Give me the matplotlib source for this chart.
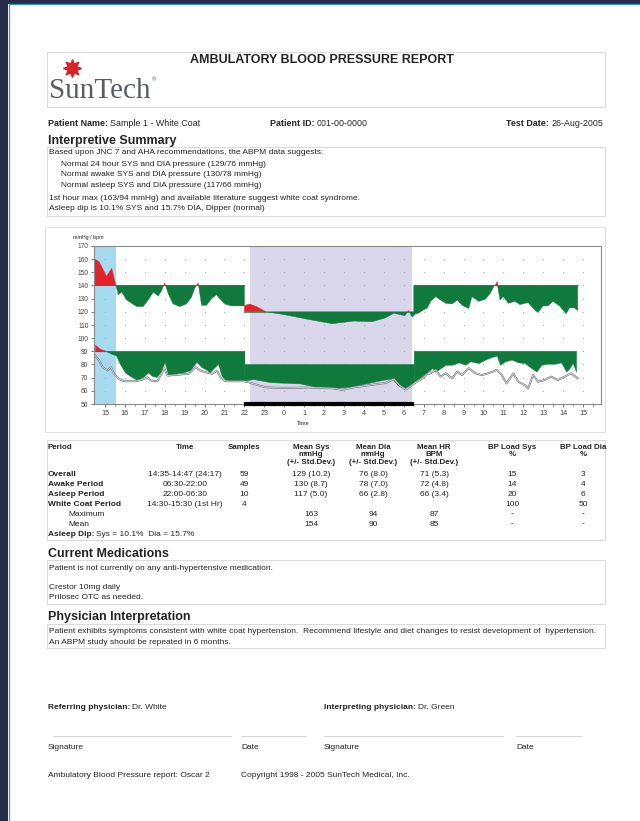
import matplotlib
matplotlib.use('Agg')
import matplotlib.pyplot as plt
import numpy as np
from matplotlib.patches import Rectangle
from matplotlib.lines import Line2D

plt.rcParams['font.family'] = ['Liberation Sans', 'DejaVu Sans']

# ---------------- data ----------------
sys_t = [14.5, 14.71, 15.08, 15.34, 15.55, 15.67, 15.84, 16.09, 16.59, 16.92, 17.17, 17.43, 17.67,
         17.84, 18.0, 18.17, 18.42, 18.76, 19.09, 19.34, 19.51, 19.68, 19.85, 20.10, 20.35, 20.60,
         20.76, 21.01, 21.34, 21.95, 22.26, 22.6, 23.1, 23.95, 25.3, 26.4, 27.5, 28.4, 29.1, 29.5,
         30.05, 30.24, 30.42, 30.6, 30.75, 30.94, 31.18, 31.35, 31.60, 31.85, 32.10, 32.43, 32.68,
         32.93, 33.26, 33.42, 33.76, 34.09, 34.34, 34.58, 34.67, 34.83, 35.0, 35.25, 35.58, 35.83,
         36.24, 36.57, 36.74, 36.99, 37.24, 37.49, 37.82, 38.15, 38.32, 38.56, 38.73]
sys_v = [160, 158, 147, 153, 140, 133, 135, 129, 124, 124, 129, 135, 132,
         136, 142, 134, 126, 124, 126, 131, 138, 142, 125, 125, 130, 133,
         130, 126, 124.5, 124.5, 126, 124, 120, 118, 114, 111, 113, 112.5, 115.5, 119,
         117, 121, 116, 118.5, 119, 121, 123, 128, 131.5, 129, 126.5, 126, 129,
         125, 122.5, 131.5, 128, 129.5, 134, 141, 143.5, 129, 131.5, 126.5, 128, 125.5,
         127, 121.5, 119.5, 124.5, 124.5, 128, 124.5, 118.5, 123, 123, 121]

dia_t = [14.5, 14.75, 15.0, 15.34, 15.55, 15.75, 16.0, 16.34, 16.59, 16.92, 17.17, 17.34, 17.59,
         17.84, 18.0, 18.17, 18.5, 18.92, 19.26, 19.59, 19.85, 20.10, 20.26, 20.51, 20.68, 20.85,
         21.01, 21.34, 21.95, 22.43, 23.3, 24.8, 25.6, 26.3, 27.3, 28.1, 28.9, 29.4, 29.7, 30.0,
         30.27, 30.52, 30.77, 31.1, 31.43, 31.6, 31.85, 32.1, 32.43, 32.76, 33.09, 33.34, 33.76,
         34.09, 34.42, 34.67, 34.83, 35.08, 35.41, 35.75, 36.08, 36.41, 36.66, 36.91, 37.24, 37.57,
         37.9, 38.15, 38.32, 38.48, 38.65]
dia_v = [95, 92, 90.5, 88, 87, 80.5, 74, 70.5, 68.5, 70.5, 74, 71.5, 70.5,
         75.5, 82, 71.5, 73, 74, 75.5, 82, 78, 76, 74, 78, 80.5, 71.5,
         69, 67.3, 67.5, 69, 66.6, 65.6, 63, 62, 63, 65.6, 68.2, 69.5, 64.3, 62,
         64.3, 67, 69.5, 73.3, 77.2, 74.6, 77.2, 79.8, 79.8, 81.6, 79.8, 82.4, 81.1,
         83.7, 85.7, 86.8, 79.8, 82.4, 83.7, 81.6, 81.1, 77.2, 74.6, 79.8, 80.6, 80.6,
         81.6, 74.6, 77.2, 81.1, 74.6]

hr_t = [14.5, 14.71, 14.88, 15.13, 15.3, 15.46, 15.71, 15.96, 16.55, 16.88, 17.13, 17.3, 17.63,
        17.88, 17.96, 18.13, 18.55, 19.21, 19.55, 19.80, 20.05, 20.38, 20.63, 20.8, 21.05, 21.96,
        22.2, 23.05, 23.9, 25.2, 26.4, 26.9, 27.5, 29.1, 29.5, 29.8, 30.1, 30.4, 30.52, 30.94,
        31.18, 31.35, 31.60, 31.85, 32.10, 32.43, 32.68, 32.93, 33.26, 33.59, 33.92, 34.25, 34.67,
        34.92, 35.16, 35.5, 35.75, 36.08, 36.24, 36.49, 36.74, 37.07, 37.4, 37.74, 38.07, 38.4, 38.73]
hr_v = [87, 83, 78, 75.5, 78, 73, 69, 67.3, 67.3, 68.5, 70.3, 67.8, 67.3,
        74, 78, 71.6, 72.1, 73, 78, 75.4, 74.1, 72.9, 75.4, 70.3, 67.3, 67.3,
        66.5, 62.7, 62.2, 62.5, 62, 60.8, 62.7, 66, 69, 64, 61, 64, 65.6, 69.5,
        72.8, 73.3, 75.9, 70.8, 73.3, 69.5, 74.6, 72, 77.2, 73.3, 72, 73.3, 75.9,
        72, 65.6, 73.3, 66.9, 64.3, 61.7, 72, 66.9, 68.2, 70.8, 68.2, 70.8, 73.3, 69.5]

sys_limits = (140, 120)      # awake, asleep
dia_limits = (90, 80)
sleep_start, sleep_end = 22.0, 30.5
sleep_shade = (22.3, 30.43)
whitecoat = (14.45, 15.55)
x_range = (14.45, 39.9)
y_range = (50, 170)
hour_ticks = list(range(15, 40))
y_ticks = list(range(50, 171, 10))

table_header = ["Period", "Time", "Samples", "Mean Sys\nmmHg\n(+/- Std.Dev.)",
                "Mean Dia\nmmHg\n(+/- Std.Dev.)", "Mean HR\nBPM\n(+/- Std.Dev.)",
                "BP Load Sys\n%", "BP Load Dia\n%"]
table_rows = [
    ["Overall", "14:35-14:47 (24:17)", "59", "129 (10.2)", "76 (8.0)", "71 (5.3)", "15", "3"],
    ["Awake Period", "06:30-22:00", "49", "130 (8.7)", "78 (7.0)", "72 (4.8)", "14", "4"],
    ["Asleep Period", "22:00-06:30", "10", "117 (5.0)", "66 (2.8)", "66 (3.4)", "20", "6"],
    ["White Coat Period", "14:30-15:30 (1st Hr)", "4", "", "", "", "100", "50"],
    ["Maximum", "", "", "163", "94", "87", "-", "-"],
    ["Mean", "", "", "154", "90", "85", "-", "-"],
]

GREEN = '#0f7a3b'
RED = '#e2232b'
TXT = '#242424'
BODY = 6.0
HEAD = 9.0

W, H = 640, 821
fig = plt.figure(figsize=(W / 100, H / 100), dpi=100)
fig.patch.set_facecolor('white')
R = fig.canvas.get_renderer()


def X(x):
    return x / W


def Y(y):
    return 1 - y / H


def txt(x, y, s, size=BODY, weight='normal', ha='left', va='center', color=TXT, **kw):
    return fig.text(X(x), Y(y), s, fontsize=size, fontweight=weight, ha=ha, va=va,
                    color=color, **kw)


def box(x0, y0, x1, y1, color='#d4d4d4', lw=0.6):
    fig.add_artist(Rectangle((X(x0), Y(y1)), (x1 - x0) / W, (y1 - y0) / H, fill=False,
                             ec=color, lw=lw, transform=fig.transFigure))


def hline(x0, x1, y, color='#cfcfcf', lw=0.6):
    fig.add_artist(Line2D([X(x0), X(x1)], [Y(y), Y(y)], color=color, lw=lw,
                          transform=fig.transFigure))


def label_value(x, y, label, value, size=BODY, right=False):
    t1 = txt(x, y, label, size=size, weight='bold')
    w1 = t1.get_window_extent(R).width
    t2 = txt(x + w1 + 2, y, value, size=size)
    if right:
        w2 = t2.get_window_extent(R).width
        tot = w1 + 2 + w2
        t1.set_x(X(x - tot))
        t2.set_x(X(x - tot + w1 + 2))


# ---- page frame (dark surround) ----
NAVY = '#272c48'
fig.add_artist(Rectangle((0, Y(4)), 1, 4 / H, color=NAVY, transform=fig.transFigure, lw=0))
fig.add_artist(Rectangle((0, 0), 8 / W, 1, color=NAVY, transform=fig.transFigure, lw=0))
fig.add_artist(Line2D([X(8.5), X(8.5)], [0, Y(4.5)], color='#3596dc', lw=0.9, transform=fig.transFigure))
fig.add_artist(Line2D([X(8.5), 1], [Y(4.5), Y(4.5)], color='#3596dc', lw=0.9, transform=fig.transFigure))

# ---- header ----
box(47, 52, 605, 107)
txt(322, 60, 'AMBULATORY BLOOD PRESSURE REPORT', size=9.0, weight='bold', ha='center')
txt(49, 91, 'SunTech', size=21, family='Liberation Serif', color='#565c64')
txt(152, 80, '®', size=4, color='#565c64')
fig.add_artist(Line2D([X(72)], [Y(68)], marker=(8, 1, 0), ms=13, color='#d8232a',
                      mec='#d8232a', transform=fig.transFigure))
fig.add_artist(Line2D([X(72)], [Y(68)], marker=(6, 1, 30), ms=9, color='#d8232a',
                      mec='#d8232a', transform=fig.transFigure))

label_value(48, 123, 'Patient Name:', 'Sample 1 - White Coat', size=6.4)
label_value(270, 123, 'Patient ID:', '001-00-0000', size=6.4)
label_value(603, 123, 'Test Date:', '26-Aug-2005', size=6.4, right=True)

# ---- interpretive summary ----
txt(48, 141, 'Interpretive Summary', size=HEAD, weight='bold')
box(47, 147, 605, 216)
txt(49, 153, 'Based upon JNC 7 and AHA recommendations, the ABPM data suggests:')
txt(61, 164, 'Normal 24 hour SYS and DIA pressure (129/76 mmHg)')
txt(61, 174.5, 'Normal awake SYS and DIA pressure (130/78 mmHg)')
txt(61, 185, 'Normal asleep SYS and DIA pressure (117/66 mmHg)')
txt(49, 198, '1st hour max (163/94 mmHg) and available literature suggest white coat syndrome.')
txt(49, 208, 'Asleep dip is 10.1% SYS and 15.7% DIA, Dipper (normal)')

# ---- chart ----
box(45, 227, 605, 432, color='#dddddd')
ax = fig.add_axes([X(94), Y(404), (601 - 94) / W, (404 - 246) / H])
ax.set_xlim(*x_range)
ax.set_ylim(*y_range)
ax.axvspan(*whitecoat, color='#a6dbef', lw=0, zorder=0)
ax.axvspan(*sleep_shade, color='#dad6eb', lw=0, zorder=0)

gx, gy = np.meshgrid(hour_ticks, y_ticks[1:-1])
ax.scatter(gx.ravel(), gy.ravel(), s=0.8, color='#b0b0b0', lw=0, zorder=1)


def band(t, v, limits):
    t = np.asarray(t, float)
    v = np.asarray(v, float)
    segs = [(t[0], sleep_start, limits[0]), (sleep_start, sleep_end, limits[1]),
            (sleep_end, t[-1], limits[0])]
    for a, b, thr in segs:
        m = (t > a) & (t < b)
        tt = np.concatenate([[a], t[m], [b]])
        vv = np.concatenate([[np.interp(a, t, v)], v[m], [np.interp(b, t, v)]])
        ax.fill_between(tt, vv, thr, where=vv <= thr, interpolate=True, color=GREEN, lw=0.3,
                        ec=GREEN, zorder=2)
        ax.fill_between(tt, vv, thr, where=vv >= thr, interpolate=True, color=RED, lw=0.3,
                        ec=RED, zorder=2)
        ax.plot([a, b], [thr, thr], color=GREEN, lw=0.5, zorder=2)


band(sys_t, sys_v, sys_limits)
band(dia_t, dia_v, dia_limits)
ax.plot(hr_t, hr_v, color='#74767e', lw=1.4, zorder=3, solid_joinstyle='round')
ax.plot(hr_t, hr_v, color='#f2f2f2', lw=0.45, zorder=4, solid_joinstyle='round')

ax.plot([sleep_start, sleep_end], [y_range[0], y_range[0]], color='black', lw=3,
        solid_capstyle='butt', clip_on=False, zorder=5)

ax.set_xticks(hour_ticks)
ax.set_xticklabels([str(h % 24) for h in hour_ticks], fontsize=5.2, color=TXT)
ax.set_xticks(np.arange(15, 39.6, 0.5), minor=True)
ax.set_yticks(y_ticks)
ax.set_yticklabels([str(v) for v in y_ticks], fontsize=4.8, color=TXT)
ax.tick_params(axis='both', which='major', length=2.5, width=0.5, pad=1.5, colors='#444')
ax.tick_params(axis='x', which='minor', length=1.5, width=0.4, colors='#444')
for s in ax.spines.values():
    s.set_color('#8a8a8a')
    s.set_linewidth(0.8)
ax.set_facecolor('white')
txt(73, 238, 'mmHg / bpm', size=3.8)
txt(303, 423, 'Time', size=4.2, ha='center')

# ---- table ----
box(47, 440, 605, 540)
col_x = [48, 185, 244, 311, 373, 434, 512, 583]
TS = 6.0
for i, h in enumerate(table_header):
    for k, line in enumerate(h.split('\n')):
        txt(col_x[i], 447 + 7.5 * k, line, size=5.7, weight='bold', ha='left' if i == 0 else 'center')
row_y = [474, 484, 494, 504, 514, 524]
for r, (row, yy) in enumerate(zip(table_rows, row_y)):
    for i, cell in enumerate(row):
        if i == 0:
            indent = 20 if r >= 4 else 0
            txt(col_x[0] + indent, yy, cell, size=TS, weight='normal' if r >= 4 else 'bold')
        else:
            txt(col_x[i], yy, cell, size=TS, ha='center')
label_value(48, 534, 'Asleep Dip:', 'Sys = 10.1%  Dia = 15.7%', size=TS)

# ---- medications ----
txt(48, 554, 'Current Medications', size=HEAD, weight='bold')
box(47, 560, 605, 604)
txt(49, 568, 'Patient is not currently on any anti-hypertensive medication.')
txt(49, 587, 'Crestor 10mg daily')
txt(49, 597, 'Prilosec OTC as needed.')

# ---- physician interpretation ----
txt(48, 617, 'Physician Interpretation', size=HEAD, weight='bold')
box(47, 624, 605, 648)
txt(49, 631, 'Patient exhibits symptoms consistent with white coat hypertension.  Recommend lifestyle '
             'and diet changes to resist development of  hypertension.')
txt(49, 642, 'An ABPM study should be repeated in 6 months.')

# ---- signatures ----
label_value(48, 707, 'Referring physician:', 'Dr. White')
label_value(324, 707, 'Interpreting physician:', 'Dr. Green')
hline(53, 231, 736)
hline(241, 306, 736)
hline(324, 503, 736)
hline(516, 581, 736)
txt(48, 747, 'Signature')
txt(241, 747, 'Date')
txt(324, 747, 'Signature')
txt(516, 747, 'Date')
txt(48, 775, 'Ambulatory Blood Pressure report: Oscar 2')
txt(241, 775, 'Copyright 1998 - 2005 SunTech Medical, Inc.')

fig.savefig('out.png', dpi=100, facecolor='white')
